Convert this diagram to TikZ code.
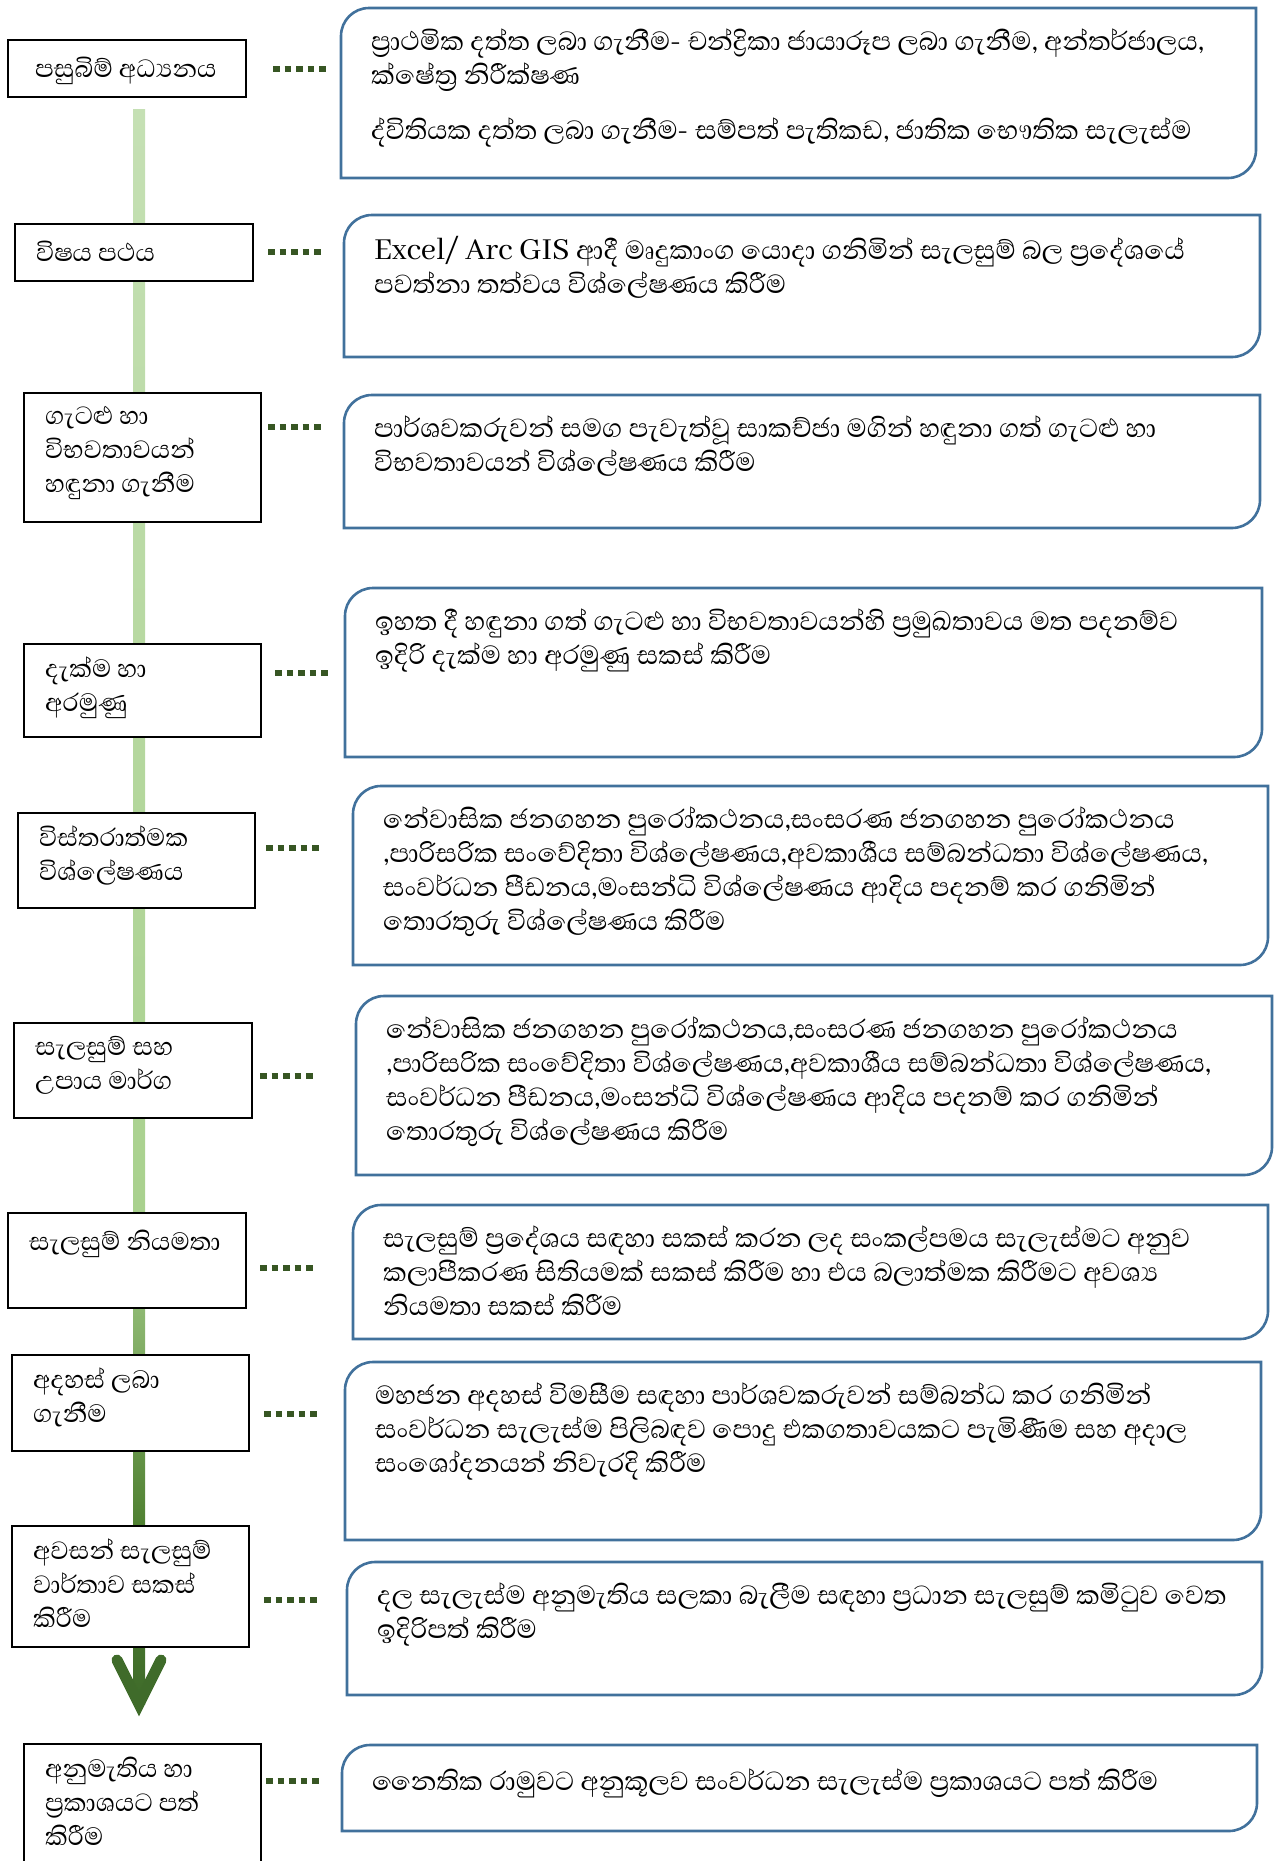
\documentclass[tikz,border=0pt]{standalone}
\usepackage{fontspec}
\setmainfont[Script=Sinhala]{Abhaya Libre}
\definecolor{cardblue}{HTML}{41719C}
\definecolor{dotgreen}{HTML}{375623}
\definecolor{stemA}{HTML}{C5E0B4}
\definecolor{stemB}{HTML}{A9D18E}
\definecolor{stemC}{HTML}{4E7F30}
\definecolor{stemD}{HTML}{3F6B2A}

\newcommand{\stagebox}[6]{%
  \node[stage, minimum width={#4-#2}, minimum height={#5-#3}] (#1) at ({(#2+#4)/2},{-(#3+#5)/2}) {};
  \node[stagetext] (#1t) at ([xshift=21,yshift=-13]#1.north west) {#6};}
\newcommand{\taskcard}[6]{%
  \node[card, minimum width={#4-#2}, minimum height={#5-#3}] (#1) at ({(#2+#4)/2},{-(#3+#5)/2}) {};
  \draw[cardline] (#1.south west) -- ([yshift=-28]#1.north west) arc[start angle=180, end angle=90, radius=28]
    -- (#1.north east) -- ([yshift=28]#1.south east) arc[start angle=0, end angle=-90, radius=28] -- cycle;
  \node[cardtext] (#1t) at ([xshift=30,yshift=-21]#1.north west) {#6};}

\begin{document}
\begin{tikzpicture}[x=1pt, y=1pt,
    stage/.style={draw=black, line width=1.4pt, fill=white, inner sep=0, outer sep=0},
    card/.style={inner sep=0, outer sep=0},
    cardline/.style={draw=cardblue, line width=2.6pt, fill=white},
    stagetext/.style={anchor=north west, inner sep=0, align=left, font=\fontsize{32}{34}\selectfont, execute at begin node=\strut},
    cardtext/.style={stagetext, font=\fontsize{33.5}{34}\selectfont},
    dotline/.style={dotgreen, line width=6pt, dash pattern=on 6.5pt off 5pt}]
  \useasboundingbox (0,0) rectangle (1274,-1861);
  \clip (0,0) rectangle (1274,-1861);

  % stem behind the boxes
  \coordinate (s0) at (139,-109);
  \coordinate (s1) at (139,-1213);
  \coordinate (s2) at (139,-1530);
  \coordinate (s3) at (139,-1704);
  \shade[top color=stemA, bottom color=stemB] ([xshift=-6]s0) rectangle ([xshift=6]s1);
  \shade[top color=stemB, bottom color=stemC] ([xshift=-6]s1) rectangle ([xshift=6]s2);
  \shade[top color=stemC, bottom color=stemD] ([xshift=-6]s2) rectangle ([xshift=6]s3);
  \draw[stemD, line width=11, line cap=round, line join=miter] ([shift={(-22,44)}]s3) -- (s3) -- ([shift={(22,44)}]s3);

  \stagebox{l1}{8}{40}{246}{97}{\hspace{6pt}පසුබිම් අධ්^^^^200dයනය}
  \stagebox{l2}{15}{224}{253}{281}{විෂය පථය}
  \stagebox{l3}{24}{393}{261}{522}{ගැටළු හා\\විභවතාවයන්\\හඳුනා ගැනීම}
  \stagebox{l4}{24}{644}{261}{737}{දැක්ම හා\\අරමුණු}
  \stagebox{l5}{18}{813}{255}{908}{විස්තරාත්මක\\විශ්ලේෂණය}
  \stagebox{l6}{14}{1023}{252}{1118}{සැලසුම් සහ\\උපාය මාර්ග}
  \stagebox{l7}{8}{1213}{246}{1308}{සැලසුම් නියමතා}
  \stagebox{l8}{12}{1355}{249}{1451}{අදහස් ලබා\\ගැනීම}
  \stagebox{l9}{12}{1526}{249}{1647}{අවසන් සැලසුම්\\වාර්තාව සකස්\\කිරීම}
  \stagebox{l10}{24}{1744}{261}{1900}{අනුමැතිය හා\\ප්^^^^200dරකාශයට පත්\\කිරීම}

  \taskcard{r1}{341}{8}{1256}{178}{ප්^^^^200dරාථමික දත්ත ලබා ගැනීම- චන්ද්^^^^200dරිකා ජායාරූප ලබා ගැනීම, අන්තර්ජාලය,\\ක්ෂේත්^^^^200dර නිරීක්ෂණ\\[21pt]ද්විතියක දත්ත ලබා ගැනීම- සම්පත් පැතිකඩ, ජාතික භෞතික සැලැස්ම}
  \taskcard{r2}{344}{215}{1260}{357}{Excel/ Arc GIS ආදී මෘදුකාංග යොදා ගනිමින් සැලසුම් බල ප්^^^^200dරදේශයේ\\පවත්නා තත්වය විශ්ලේෂණය කිරීම}
  \taskcard{r3}{344}{395}{1260}{528}{පාර්ශවකරුවන් සමග පැවැත්වූ සාකච්ජා මගින් හඳුනා ගත් ගැටළු හා\\විභවතාවයන් විශ්ලේෂණය කිරීම}
  \taskcard{r4}{345}{588}{1262}{757}{ඉහත දී හඳුනා ගත් ගැටළු හා විභවතාවයන්හි ප්^^^^200dරමුඛතාවය මත පදනම්ව\\ඉදිරි දැක්ම හා අරමුණු සකස් කිරීම}
  \taskcard{r5}{353}{786}{1268}{965}{නේවාසික ජනගහන පුරෝකථනය,සංසරණ ජනගහන පුරෝකථනය\\,පාරිසරික සංවේදිතා විශ්ලේෂණය,අවකාශීය සම්බන්ධතා විශ්ලේෂණය,\\සංවර්ධන පීඩනය,මංසන්ධි විශ්ලේෂණය ආදිය පදනම් කර ගනිමින්\\තොරතුරු විශ්ලේෂණය කිරීම}
  \taskcard{r6}{356}{996}{1272}{1175}{නේවාසික ජනගහන පුරෝකථනය,සංසරණ ජනගහන පුරෝකථනය\\,පාරිසරික සංවේදිතා විශ්ලේෂණය,අවකාශීය සම්බන්ධතා විශ්ලේෂණය,\\සංවර්ධන පීඩනය,මංසන්ධි විශ්ලේෂණය ආදිය පදනම් කර ගනිමින්\\තොරතුරු විශ්ලේෂණය කිරීම}
  \taskcard{r7}{353}{1205}{1268}{1339}{සැලසුම් ප්^^^^200dරදේශය සඳහා සකස් කරන ලද සංකල්පමය සැලැස්මට අනුව\\කලාපීකරණ සිතියමක් සකස් කිරීම හා එය බලාත්මක කිරීමට අවශ්^^^^200dය\\නියමතා සකස් කිරීම}
  \taskcard{r8}{345}{1362}{1261}{1540}{මහජන අදහස් විමසීම සඳහා පාර්ශවකරුවන් සම්බන්ධ කර ගනිමින්\\සංවර්ධන සැලැස්ම පිලිබඳව පොදු එකගතාවයකට පැමිණීම සහ අදාල\\සංශෝදනයන් නිවැරදි කිරීම}
  \taskcard{r9}{347}{1562}{1262}{1695}{දල සැලැස්ම අනුමැතිය සලකා බැලීම සඳහා ප්^^^^200dරධාන සැලසුම් කමිටුව වෙත\\ඉදිරිපත් කිරීම}
  \taskcard{r10}{342}{1745}{1257}{1831}{නෛතික රාමුවට අනුකූලව සංවර්ධන සැලැස්ම ප්^^^^200dරකාශයට පත් කිරීම}

  \coordinate (d1) at (273,-69);
  \coordinate (d2) at (268,-252);
  \coordinate (d3) at (268,-427);
  \coordinate (d4) at (275,-673);
  \coordinate (d5) at (266,-848);
  \coordinate (d6) at (260,-1076);
  \coordinate (d7) at (260,-1268);
  \coordinate (d8) at (264,-1414);
  \coordinate (d9) at (264,-1600);
  \coordinate (d10) at (266,-1781);
  \foreach \i in {1,...,10} \draw[dotline] (d\i) -- ++(53,0);
\end{tikzpicture}
\end{document}
